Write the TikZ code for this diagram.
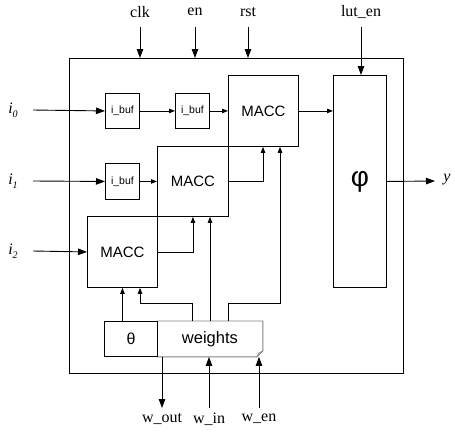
\documentclass[tikz,border=0pt]{standalone}
\usepackage{fontspec}
\setmainfont{Liberation Serif}
\setsansfont{Liberation Sans}
\usetikzlibrary{arrows.meta,calc}
\begin{document}
\begin{tikzpicture}[x=1pt,y=-1pt,
  line width=0.9pt,
  blk/.style={draw,anchor=north west,inner sep=0pt,font=\sffamily},
  arr/.style={-{Triangle[length=9pt,width=6.5pt]}},
  sarr/.style={-{Triangle[length=6pt,width=4.5pt]}},
  lbl/.style={font=\fontsize{16}{18}\selectfont,inner sep=0pt},
  ilbl/.style={font=\fontsize{16}{18}\selectfont,inner sep=0pt}
]
\useasboundingbox (0,0) rectangle (455,432);
\newcommand{\sublbl}[1]{\textit{i}\raisebox{-4.5pt}{\fontsize{10}{10}\selectfont\textit{#1}}}

% outer box
\node[blk,minimum width=334pt,minimum height=315pt] (outer) at (69,58) {};
% blocks
\node[blk,minimum width=53pt,minimum height=212pt,font=\sffamily\fontsize{28}{30}\selectfont] (phi) at (333,75) {φ};
\node[blk,minimum width=34pt,minimum height=35pt,font=\sffamily\fontsize{10.5}{12}\selectfont] (buf1) at (105,93) {i\_buf};
\node[blk,minimum width=34pt,minimum height=35pt,font=\sffamily\fontsize{10.5}{12}\selectfont] (buf2) at (175,93) {i\_buf};
\node[blk,minimum width=34pt,minimum height=36pt,font=\sffamily\fontsize{10.5}{12}\selectfont] (buf3) at (105,163) {i\_buf};
\node[blk,minimum width=70pt,minimum height=71pt,font=\sffamily\fontsize{15}{17}\selectfont] (macc0) at (228,75) {MACC};
\node[blk,minimum width=71pt,minimum height=70pt,font=\sffamily\fontsize{15}{17}\selectfont] (macc1) at (157,146) {MACC};
\node[blk,minimum width=70pt,minimum height=71pt,font=\sffamily\fontsize{15}{17}\selectfont] (macc2) at (87,216) {MACC};
\node[blk,minimum width=53pt,minimum height=35pt,font=\sffamily\fontsize{16}{18}\selectfont] (theta) at (104,321) {θ};
% weights (note shape with folded corner)
\node[anchor=north west,inner sep=0pt,minimum width=105pt,minimum height=35pt,font=\sffamily\fontsize{16.5}{18}\selectfont] (weights) at (157,321) {weights};
\draw[gray] (weights.north west) -- (weights.north east) -- ($(weights.south east)+(0,-6)$) -- ($(weights.south east)+(-6,0)$) -- (weights.south west);
\draw[gray,line width=0.6pt] ($(weights.south east)+(0,-6)$) -- ($(weights.south east)+(-4,-4)$) -- ($(weights.south east)+(-6,0)$);
\draw (theta.north east) -- (theta.south east);

% input labels and coordinates
\node[ilbl] (li0) at (13,110) {\sublbl{0}};
\node[ilbl] (li1) at (13,181) {\sublbl{1}};
\node[ilbl] (li2) at (13,251) {\sublbl{2}};
\coordinate (ci0) at (33,110);
\coordinate (ci1) at (33,181);
\coordinate (ci2) at (33,251);
\draw[arr] (ci0) -- (buf1.west);
\draw[arr] (ci1) -- (buf3.west);
\draw[arr] (ci2) -- (macc2.west);

% top labels
\node[lbl] (lclk) at (140,12) {clk};
\node[lbl] (len) at (195,12) {en};
\node[lbl] (lrst) at (248,12) {rst};
\node[lbl] (llut) at (361,12) {lut\_en};
\coordinate (cclk) at (140,27);
\coordinate (cen) at (195,27);
\coordinate (crst) at (248,27);
\coordinate (clut) at (361,27);
\draw[arr] (cclk) -- (cclk |- outer.north);
\draw[arr] (cen) -- (cen |- outer.north);
\draw[arr] (crst) -- (crst |- outer.north);
\draw[arr] (clut) -- (clut |- phi.north);

% output
\node[ilbl] (ly) at (447,180) {\textit{y}};
\coordinate (cy) at (435,181);
\draw[arr] (phi.east) -- (cy);

% data path
\draw[sarr] (buf1.east) -- (buf2.west);
\draw[sarr] (buf2.east) -- (buf2.east -| macc0.west);
\draw[sarr] (macc0.east |- buf2.east) -- (macc0.east |- buf2.east -| phi.west);
\draw[sarr] (buf3.east) -- (macc1.west);
\draw[sarr] (macc1.east) -| ($(macc0.south west)+(35,0)$);
\draw[sarr] (macc2.east) -| (macc1.south);

% weights to MACCs
\coordinate (wa) at (192,321);
\coordinate (wb) at (210,321);
\coordinate (wc) at (228,321);
\draw[sarr] (wa) -- (192,303) -| ($(macc2.south west)+(53,0)$);
\draw[sarr] (wb) -- (wb |- macc1.south);
\draw[sarr] (wc) -- (228,303) -| ($(macc0.south west)+(52,0)$);
\draw[sarr] (macc2.south |- theta.north) -- (macc2.south);

% bottom
\coordinate (wout) at (162,408);
\coordinate (win) at (209,408);
\coordinate (wen) at (259,408);
\draw[arr] (wout |- weights.south) -- (wout);
\draw[arr] (win) -- (win |- weights.south);
\draw[arr] (wen) -- (wen |- weights.south);
\node[lbl] (lwout) at (162,419) {w\_out};
\node[lbl] (lwin) at (209,419) {w\_in};
\node[lbl] (lwen) at (259,419) {w\_en};
\end{tikzpicture}
\end{document}
